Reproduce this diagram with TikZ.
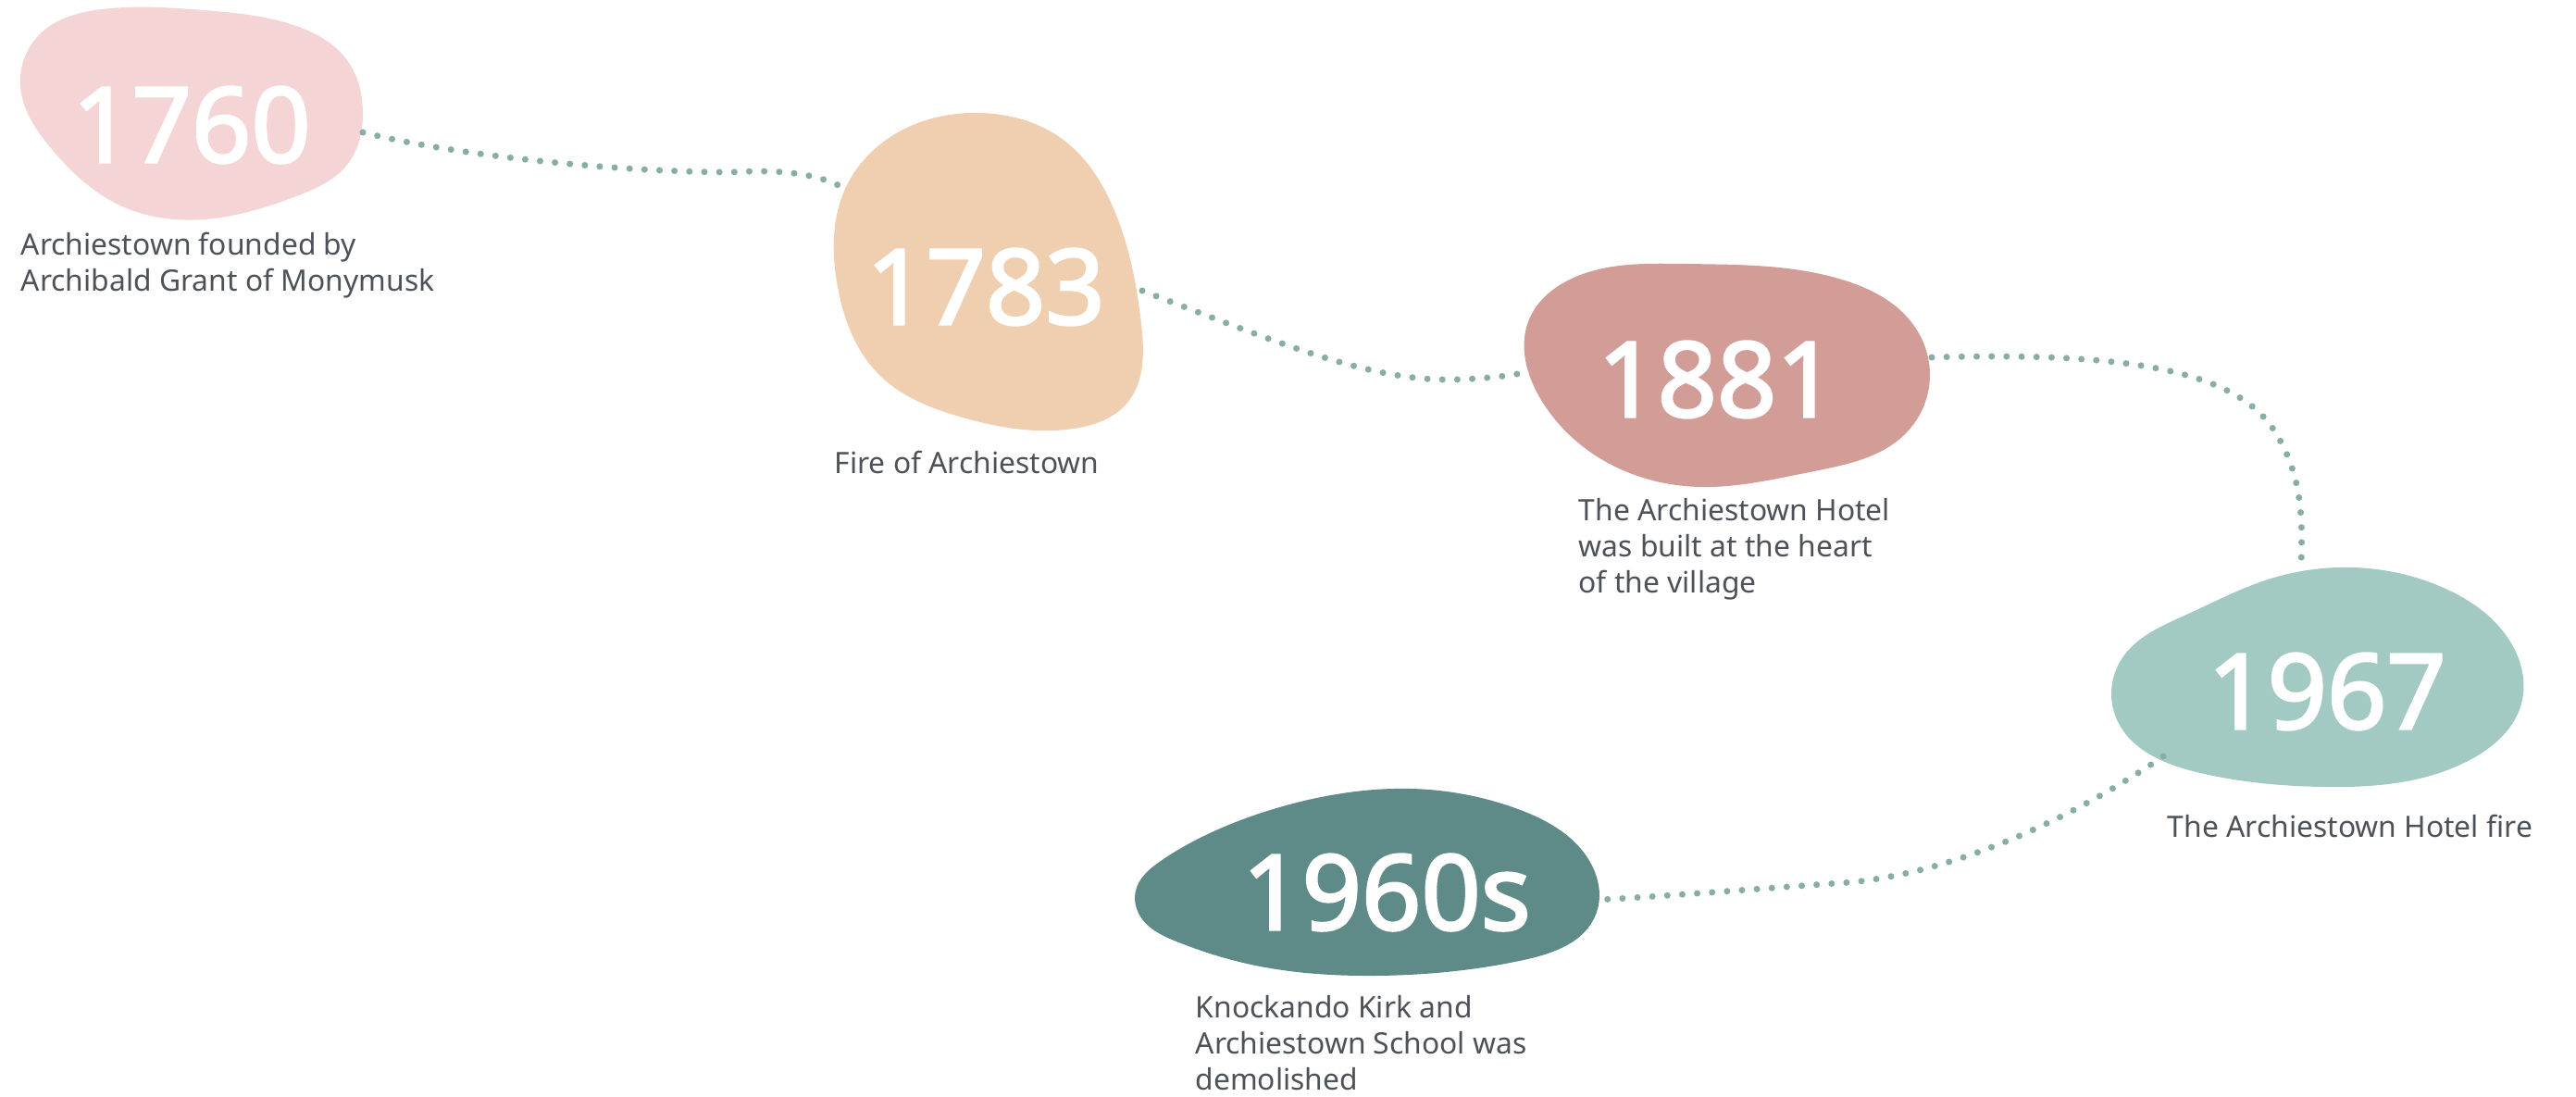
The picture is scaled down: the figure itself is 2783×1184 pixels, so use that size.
\documentclass[tikz,border=0pt]{standalone}
\usepackage{fontspec}
\setmainfont{Noto Sans}
\newfontfamily\yearfont{Noto Sans}[AutoFakeBold=2.5]
\usetikzlibrary{positioning,hobby}

\definecolor{pinkblob}{HTML}{F4D4D4}
\definecolor{peachblob}{HTML}{F0CEB0}
\definecolor{roseblob}{HTML}{D39D97}
\definecolor{mintblob}{HTML}{A3C9C3}
\definecolor{tealblob}{HTML}{5E8A87}
\definecolor{trailcol}{HTML}{88ADA8}
\definecolor{notecol}{HTML}{4D5258}

\tikzset{
  year/.style={text=white,inner sep=0pt,font=\yearfont\fontsize{32}{36}\selectfont\bfseries},
  note/.style={anchor=base west,align=left,inner sep=0pt,text=notecol,
    font=\fontsize{9.05}{11}\selectfont},
  trail/.style={draw=trailcol,line width=2pt,line cap=round,dash pattern=on 0pt off 4.6pt}
}

\begin{document}
\begin{tikzpicture}[x=0.01cm,y=-0.01cm]
  \useasboundingbox (0,0) rectangle (2783,1184);

  % blobs
  \fill[pinkblob] plot[closed hobby] coordinates {(22,93) (45,35) (110,10) (220,11) (320,28)
    (375,65) (392,120) (375,178) (320,212) (220,237) (130,222) (55,160)};
  \fill[peachblob] plot[closed hobby] coordinates {(1060,122) (1150,152) (1205,230) (1233,350)
    (1218,435) (1160,463) (1040,451) (950,405) (905,310) (915,200) (970,143)};
  \fill[roseblob] plot[closed hobby] coordinates {(1652,345) (1700,300) (1820,285) (1990,302)
    (2065,348) (2085,405) (2060,467) (1955,510) (1837,526) (1737,500) (1665,432)};
  \fill[mintblob] plot[closed hobby] coordinates {(2543,613) (2640,635) (2710,690) (2724,760)
    (2670,820) (2510,850) (2377,835) (2286,775) (2292,712) (2362,664) (2450,626)};
  \fill[tealblob] plot[closed hobby] coordinates {(1525,852) (1640,874) (1716,928) (1724,988)
    (1646,1037) (1486,1054) (1343,1040) (1271,1017) (1232,990) (1227,962) (1254,930)
    (1307,900) (1379,873) (1450,857)};

  % years
  \node[year] (y1760) at (207,135) {1760};
  \node[year] (y1783) at (1065,310) {1783};
  \node[year] (y1881) at (1855,410) {1881};
  \node[year] (y1967) at (2514,747) {1967};
  \node[year] (y1960s) at (1498,964) {1960s};

  % notes
  \node[note] (n1760) at (22,314) {Archiestown founded by\\Archibald Grant of Monymusk};
  \node[note] (n1783) at (901,511) {Fire of Archiestown};
  \node[note] (n1881) at (1705,640) {The Archiestown Hotel\\was built at the heart\\of the village};
  \node[note] (n1967) at (2341,904) {The Archiestown Hotel fire};
  \node[note] (n1960s) at (1291,1177) {Knockando Kirk and\\Archiestown School was\\demolished};

  % trail ends
  \coordinate (o1760) at (392,143);
  \coordinate (k1) at (790,186);
  \coordinate (i1783) at (913,204);
  \coordinate (o1783) at (1234,314);
  \coordinate (k2) at (1570,410);
  \coordinate (i1881) at (1650,402);
  \coordinate (o1881) at (2087,386);
  \coordinate (k3) at (2460,470);
  \coordinate (i1967) at (2486,613);
  \coordinate (o1967) at (2337,817);
  \coordinate (k4) at (2000,953);
  \coordinate (i1960s) at (1726,972);

  \draw[trail] (o1760) .. controls (500,170) and (680,186) .. (k1)
    .. controls (850,182) and (890,190) .. (i1783);
  \draw[trail] (o1783) .. controls (1380,370) and (1480,412) .. (k2)
    .. controls (1610,409) and (1635,405) .. (i1881);
  \draw[trail] (o1881) .. controls (2300,380) and (2420,400) .. (k3)
    .. controls (2490,520) and (2487,570) .. (i1967);
  \draw[trail] (o1967) .. controls (2260,870) and (2130,940) .. (k4)
    .. controls (1900,960) and (1800,968) .. (i1960s);
\end{tikzpicture}
\end{document}
